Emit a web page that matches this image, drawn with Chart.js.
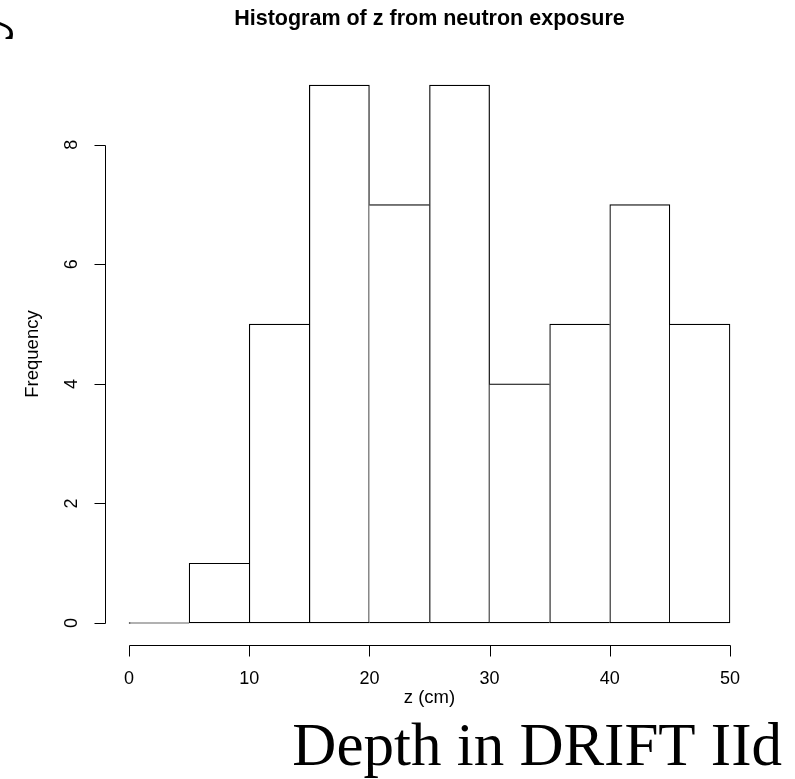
<!DOCTYPE html>
<html>
<head>
<meta charset="utf-8">
<script src="https://cdn.jsdelivr.net/npm/chart.js@4.4.0/dist/chart.umd.min.js"></script>
<style>
  html, body { margin: 0; padding: 0; background: #fff; }
  #wrap { width: 795px; height: 779px; }
</style>
</head>
<body>
<div id="wrap"><canvas id="hist" width="795" height="779"></canvas></div>
<script>
// histogram bins (cm) and counts
const binEdges = [0, 5, 10, 15, 20, 25, 30, 35, 40, 45, 50];
const counts = [0, 1, 5, 9, 7, 9, 4, 5, 7, 5];
const xTicks = [0, 10, 20, 30, 40, 50];
const yTicks = [0, 2, 4, 6, 8];

const titleText = 'Histogram of z from neutron exposure';
const xLabel = 'z (cm)';
const yLabel = 'Frequency';
const bigLabel = 'Depth in DRIFT IId';
const sideLabel = 'Neutron Recoil Intensity';

const sans = '"Liberation Sans", Arial, Helvetica, sans-serif';
const serif = '"Liberation Serif", "Times New Roman", serif';

const points = counts.map((c, i) => ({ x: (binEdges[i] + binEdges[i + 1]) / 2, y: c }));

// only one bar draws each shared edge (the taller one), like R's rect outlines
const edgeWidths = (ctx) => {
  const i = ctx.dataIndex;
  const v = counts[i];
  const lw = 1.2;
  const left = (i === 0 || v >= counts[i - 1]) ? lw : 0;
  const right = (i === counts.length - 1 || v > counts[i + 1]) ? lw : 0;
  return { top: lw, bottom: lw, left: left, right: right };
};

const rAxes = {
  id: 'rAxes',
  afterDraw(chart) {
    const { ctx, chartArea, scales } = chart;
    const xs = scales.x, ys = scales.y;
    ctx.save();
    ctx.strokeStyle = '#000';
    ctx.fillStyle = '#000';
    ctx.lineWidth = 1;

    // x axis
    const ax = Math.round(chartArea.bottom) + 0.5;
    const x0 = Math.round(xs.getPixelForValue(xTicks[0])) + 0.5;
    const x1 = Math.round(xs.getPixelForValue(xTicks[xTicks.length - 1])) + 0.5;
    ctx.beginPath();
    ctx.moveTo(x0, ax);
    ctx.lineTo(x1, ax);
    xTicks.forEach(t => {
      const px = Math.round(xs.getPixelForValue(t)) + 0.5;
      ctx.moveTo(px, ax);
      ctx.lineTo(px, ax + 11);
    });
    ctx.stroke();
    ctx.font = '18px ' + sans;
    ctx.textAlign = 'center';
    ctx.textBaseline = 'middle';
    xTicks.forEach(t => ctx.fillText(String(t), xs.getPixelForValue(t), 679));

    // y axis
    const ay = Math.round(chartArea.left) + 0.5;
    const y0 = Math.round(ys.getPixelForValue(yTicks[0])) + 0.5;
    const y1 = Math.round(ys.getPixelForValue(yTicks[yTicks.length - 1])) + 0.5;
    ctx.beginPath();
    ctx.moveTo(ay, y0);
    ctx.lineTo(ay, y1);
    yTicks.forEach(t => {
      const py = Math.round(ys.getPixelForValue(t)) + 0.5;
      ctx.moveTo(ay, py);
      ctx.lineTo(ay - 11, py);
    });
    ctx.stroke();
    yTicks.forEach(t => {
      ctx.save();
      ctx.translate(72, ys.getPixelForValue(t));
      ctx.rotate(-Math.PI / 2);
      ctx.fillText(String(t), 0, 0);
      ctx.restore();
    });

    // axis titles
    ctx.font = '18.5px ' + sans;
    ctx.save();
    ctx.translate(33, (chartArea.top + chartArea.bottom) / 2);
    ctx.rotate(-Math.PI / 2);
    ctx.fillText(yLabel, 0, 0);
    ctx.restore();
    ctx.fillText(xLabel, (chartArea.left + chartArea.right) / 2, 698);

    // main title
    ctx.font = 'bold 21.5px ' + sans;
    ctx.fillText(titleText, (chartArea.left + chartArea.right) / 2, 19);

    // large serif overlay labels
    ctx.font = '61px ' + serif;
    ctx.textAlign = 'right';
    ctx.textBaseline = 'alphabetic';
    ctx.fillText(bigLabel, 782, 765);

    // side label, mostly outside the canvas on the left
    ctx.font = '60px ' + serif;
    const w = ctx.measureText(sideLabel).width;
    ctx.font = (60 * 680 / w).toFixed(1) + 'px ' + serif;
    ctx.save();
    ctx.translate(-2, 6);
    ctx.rotate(-Math.PI / 2);
    ctx.fillText(sideLabel, 0, 0);
    ctx.restore();

    ctx.restore();
  }
};

new Chart(document.getElementById('hist'), {
  type: 'bar',
  data: {
    datasets: [{
      data: points,
      backgroundColor: '#ffffff',
      borderColor: '#000000',
      borderWidth: edgeWidths,
      borderSkipped: false,
      minBarLength: 1,
      barPercentage: 1,
      categoryPercentage: 1
    }]
  },
  options: {
    responsive: false,
    animation: false,
    devicePixelRatio: 1,
    layout: { padding: { left: 105, right: 41, top: 63.5, bottom: 134.5 } },
    plugins: { legend: { display: false }, tooltip: { enabled: false }, title: { display: false } },
    scales: {
      x: {
        type: 'linear', min: -2, max: 52, offset: false, display: false,
        // ticks at the bin edges so bars span a full 5 cm bin
        afterBuildTicks: (axis) => { axis.ticks = binEdges.map(v => ({ value: v })); }
      },
      y: { min: -0.36, max: 9.36, display: false }
    }
  },
  plugins: [rAxes]
});
</script>
</body>
</html>
